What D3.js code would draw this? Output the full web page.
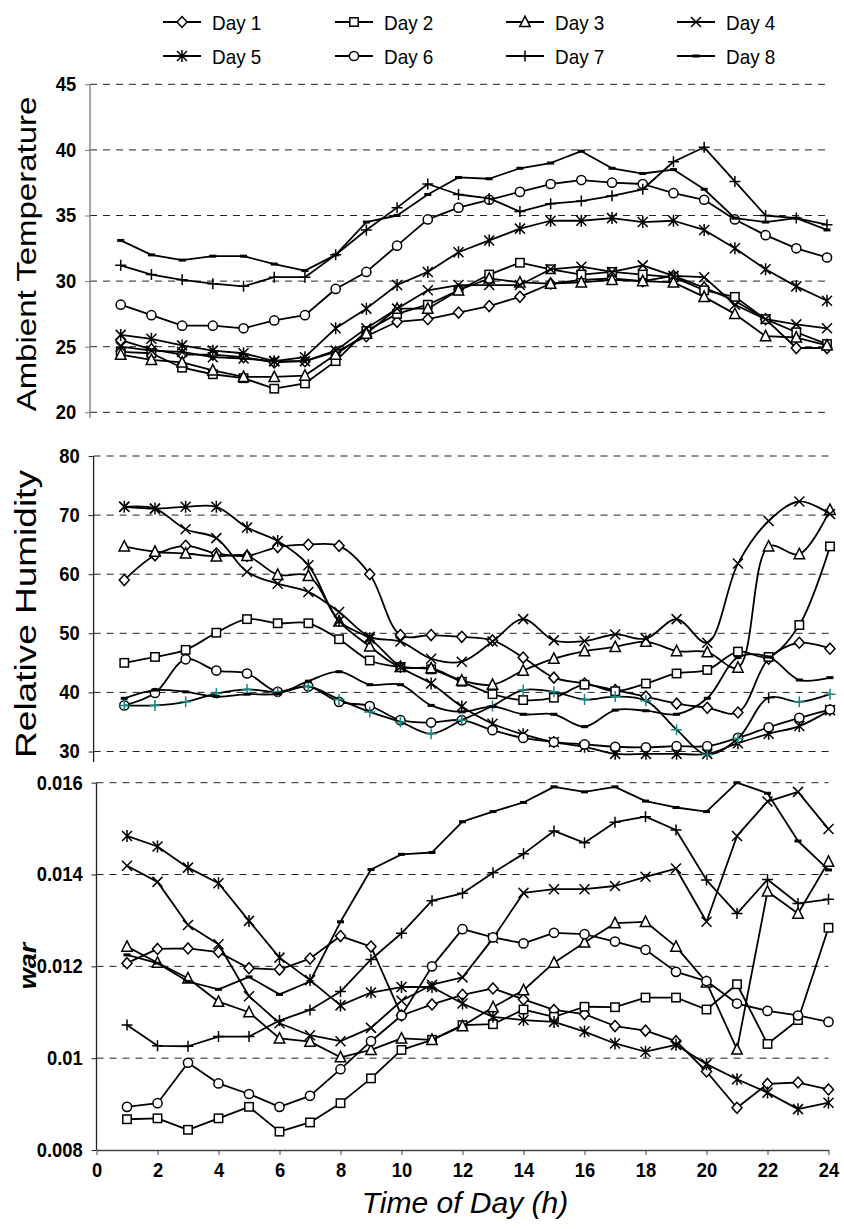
<!DOCTYPE html>
<html>
<head>
<meta charset="utf-8">
<script src="https://cdn.jsdelivr.net/npm/d3@7"></script>
<style>
  body { margin: 0; background: #fff; }
  svg { display: block; }
  text { font-family: "Liberation Sans", Arial, sans-serif; fill: #000; }
</style>
</head>
<body>
<svg id="chart" width="844" height="1229"></svg>
<script>
// ---- data -------------------------------------------------------------
const hours = [1, 2, 3, 4, 5, 6, 7, 8, 9, 10, 11, 12, 13, 14, 15, 16, 17, 18, 19, 20, 21, 22, 23, 24];
const dayNames = ["Day 1", "Day 2", "Day 3", "Day 4", "Day 5", "Day 6", "Day 7", "Day 8"];

// Ambient temperature, one row per day
const ambientTemp = [
  [25.5, 24.8, 24.4, 24.4, 24.2, 23.8, 23.9, 24.6, 25.8, 26.9, 27.1, 27.6, 28.1, 28.8, 29.8, 30.1, 30.2, 30.0, 30.4, 29.5, 28.5, 27.1, 24.9, 24.9],
  [24.6, 24.5, 23.4, 22.9, 22.6, 21.8, 22.2, 23.9, 26.2, 27.5, 28.2, 29.3, 30.5, 31.4, 30.9, 30.5, 30.7, 30.5, 30.3, 29.3, 28.8, 27.1, 26.1, 25.2],
  [24.4, 24.0, 23.8, 23.2, 22.7, 22.7, 22.8, 24.4, 26.0, 27.9, 27.9, 29.3, 30.2, 29.9, 29.8, 29.9, 30.1, 30.0, 29.9, 28.8, 27.5, 25.8, 25.7, 25.1],
  [25.0, 24.7, 24.6, 24.2, 24.1, 23.9, 23.9, 24.7, 26.4, 27.9, 29.3, 29.7, 29.7, 29.7, 30.9, 31.1, 30.7, 31.2, 30.4, 30.3, 28.2, 27.1, 26.7, 26.4],
  [25.9, 25.6, 25.1, 24.7, 24.5, 23.9, 24.2, 26.4, 27.9, 29.7, 30.7, 32.2, 33.1, 34.0, 34.6, 34.6, 34.8, 34.5, 34.6, 33.9, 32.5, 30.9, 29.6, 28.5],
  [28.2, 27.4, 26.6, 26.6, 26.4, 27.0, 27.4, 29.4, 30.7, 32.7, 34.7, 35.6, 36.2, 36.8, 37.4, 37.7, 37.5, 37.4, 36.7, 36.2, 34.7, 33.5, 32.5, 31.8],
  [31.2, 30.5, 30.1, 29.8, 29.6, 30.3, 30.3, 32.0, 33.9, 35.6, 37.4, 36.6, 36.3, 35.3, 35.9, 36.1, 36.5, 37.0, 39.1, 40.2, 37.6, 35.0, 34.8, 34.3],
  [33.1, 32.0, 31.6, 31.9, 31.9, 31.3, 30.8, 32.0, 34.5, 35.0, 36.6, 37.9, 37.8, 38.6, 39.0, 39.9, 38.6, 38.2, 38.5, 37.0, 34.8, 34.5, 34.8, 33.9]
];

// Relative humidity, one row per day
const relHumidity = [
  [59.0, 63.2, 64.8, 63.5, 63.1, 64.6, 65.0, 64.8, 60.0, 49.7, 49.7, 49.4, 48.8, 45.9, 42.5, 41.5, 40.4, 39.3, 38.1, 37.4, 36.6, 45.7, 48.4, 47.4],
  [45.0, 46.0, 47.2, 50.1, 52.4, 51.7, 51.7, 49.0, 45.4, 44.3, 43.9, 41.8, 39.7, 38.7, 39.1, 41.3, 40.2, 41.5, 43.2, 43.8, 46.9, 46.0, 51.4, 64.7],
  [64.7, 63.8, 63.5, 63.0, 63.1, 59.9, 59.7, 52.0, 47.8, 44.3, 44.1, 42.0, 41.3, 43.7, 45.7, 47.0, 47.7, 48.6, 47.0, 46.8, 44.2, 64.7, 63.4, 70.9],
  [71.4, 71.1, 67.6, 66.1, 60.4, 58.4, 57.0, 53.6, 49.4, 48.6, 45.7, 45.2, 48.6, 52.4, 48.8, 48.7, 49.8, 49.1, 52.4, 48.4, 61.8, 69.0, 72.3, 70.2],
  [71.4, 71.1, 71.4, 71.4, 67.9, 65.6, 61.5, 52.1, 49.1, 44.3, 41.5, 37.6, 34.7, 32.9, 31.6, 30.8, 29.6, 29.6, 29.6, 29.6, 31.4, 33.0, 34.3, 37.0],
  [37.8, 39.9, 45.6, 43.7, 43.2, 40.1, 41.0, 38.4, 37.7, 35.3, 34.9, 35.3, 33.6, 32.3, 31.6, 31.2, 30.8, 30.7, 30.9, 30.9, 32.3, 34.1, 35.7, 37.1],
  [37.8, 37.8, 38.4, 39.8, 40.5, 40.1, 41.0, 38.8, 36.7, 35.0, 33.0, 35.3, 37.7, 40.4, 40.1, 38.8, 39.3, 38.6, 33.7, 29.5, 32.2, 39.1, 38.4, 39.7],
  [39.0, 40.4, 40.1, 39.3, 39.7, 39.8, 41.9, 43.5, 41.3, 41.3, 37.8, 36.7, 37.6, 36.3, 36.3, 34.2, 37.0, 36.9, 36.3, 39.0, 45.9, 46.0, 42.1, 42.5]
];

// Humidity ratio (war), one row per day
const humidityRatio = [
  [0.01207, 0.01238, 0.01239, 0.01231, 0.01196, 0.01193, 0.01217, 0.01266, 0.01243, 0.01093, 0.01117, 0.01138, 0.01152, 0.01128, 0.01105, 0.01096, 0.01070, 0.01060, 0.01037, 0.00971, 0.00892, 0.00944, 0.00947, 0.00932],
  [0.00867, 0.00869, 0.00844, 0.00869, 0.00894, 0.00840, 0.00860, 0.00902, 0.00956, 0.01018, 0.01040, 0.01072, 0.01074, 0.01106, 0.01090, 0.01112, 0.01111, 0.01132, 0.01132, 0.01106, 0.01161, 0.01031, 0.01083, 0.01284],
  [0.01243, 0.01208, 0.01174, 0.01123, 0.01100, 0.01043, 0.01036, 0.01002, 0.01018, 0.01043, 0.01040, 0.01070, 0.01111, 0.01148, 0.01208, 0.01252, 0.01294, 0.01297, 0.01243, 0.01165, 0.01019, 0.01363, 0.01315, 0.01428],
  [0.01419, 0.01384, 0.01290, 0.01248, 0.01135, 0.01076, 0.01050, 0.01037, 0.01066, 0.01125, 0.01160, 0.01176, 0.01261, 0.01360, 0.01368, 0.01368, 0.01375, 0.01395, 0.01413, 0.01297, 0.01484, 0.01559, 0.01580, 0.01499],
  [0.01484, 0.01461, 0.01415, 0.01381, 0.01299, 0.01219, 0.01170, 0.01115, 0.01143, 0.01155, 0.01155, 0.01119, 0.01090, 0.01083, 0.01079, 0.01058, 0.01032, 0.01014, 0.01029, 0.00987, 0.00954, 0.00925, 0.00889, 0.00903],
  [0.00894, 0.00902, 0.00990, 0.00945, 0.00922, 0.00894, 0.00918, 0.00976, 0.01037, 0.01093, 0.01200, 0.01281, 0.01263, 0.01250, 0.01273, 0.01270, 0.01254, 0.01236, 0.01188, 0.01168, 0.01119, 0.01103, 0.01093, 0.01079],
  [0.01072, 0.01027, 0.01026, 0.01047, 0.01047, 0.01082, 0.01105, 0.01145, 0.01215, 0.01272, 0.01343, 0.01359, 0.01404, 0.01445, 0.01495, 0.01469, 0.01514, 0.01526, 0.01497, 0.01388, 0.01315, 0.01389, 0.01337, 0.01346],
  [0.01225, 0.01207, 0.01167, 0.01150, 0.01177, 0.01139, 0.01167, 0.01297, 0.01411, 0.01444, 0.01448, 0.01515, 0.01537, 0.01557, 0.01591, 0.01580, 0.01591, 0.01560, 0.01546, 0.01537, 0.01600, 0.01577, 0.01473, 0.01410]
];

// Axis ticks and labels
const tempTicks = [20, 25, 30, 35, 40, 45];
const rhTicks = [30, 40, 50, 60, 70, 80];
const warTicks = [0.008, 0.010, 0.012, 0.014, 0.016];
const warTickLabels = ["0.008", "0.01", "0.012", "0.014", "0.016"];
const hourTicks = [0, 2, 4, 6, 8, 10, 12, 14, 16, 18, 20, 22, 24];

// ---- styling ----------------------------------------------------------
const markerTypes = ["diamond", "square", "triangle", "cross", "asterisk", "circle", "plus", "dash"];
const teal = "#138a8a";
const lineWidth = 1.8;
const tickNarrow = 0.92;   // horizontal squeeze for tick lettering
const legendNarrow = 0.9;  // horizontal squeeze for legend lettering

const svg = d3.select("#chart");

function drawMarker(g, type, cx, cy, color) {
  const m = g.append("g").attr("transform", `translate(${cx},${cy})`);
  const sw = 1.5;
  switch (type) {
    case "diamond":
      m.append("path").attr("d", "M0,-5.5L5,0L0,5.5L-5,0Z")
        .attr("fill", "#fff").attr("stroke", color).attr("stroke-width", sw);
      break;
    case "square":
      m.append("rect").attr("x", -4.2).attr("y", -4.2).attr("width", 8.4).attr("height", 8.4)
        .attr("fill", "#fff").attr("stroke", color).attr("stroke-width", sw);
      break;
    case "triangle":
      m.append("path").attr("d", "M0,-5.8L5.2,4.6L-5.2,4.6Z")
        .attr("fill", "#fff").attr("stroke", color).attr("stroke-width", sw);
      break;
    case "cross":
      m.append("path").attr("d", "M-5,-5L5,5M-5,5L5,-5")
        .attr("stroke", color).attr("stroke-width", sw);
      break;
    case "asterisk":
      m.append("path").attr("d", "M-5,-5L5,5M-5,5L5,-5M0,-6L0,6")
        .attr("stroke", color).attr("stroke-width", sw);
      break;
    case "circle":
      m.append("circle").attr("r", 4.6)
        .attr("fill", "#fff").attr("stroke", color).attr("stroke-width", sw);
      break;
    case "plus":
      m.append("path").attr("d", "M-5.5,0L5.5,0M0,-5.5L0,5.5")
        .attr("stroke", color).attr("stroke-width", sw);
      break;
    case "dash":
      m.append("rect").attr("x", -3.5).attr("y", -1.5).attr("width", 7).attr("height", 3)
        .attr("fill", color);
      break;
  }
}

// ---- legend -----------------------------------------------------------
const legendCols = [163, 335, 506, 677];
const legendRows = [22, 56];
const legend = svg.append("g");
dayNames.forEach((name, i) => {
  const lx = legendCols[i % 4], ly = legendRows[Math.floor(i / 4)];
  const item = legend.append("g");
  item.append("line").attr("x1", lx).attr("x2", lx + 38).attr("y1", ly).attr("y2", ly)
    .attr("stroke", "#000").attr("stroke-width", lineWidth);
  drawMarker(item, markerTypes[i], lx + 19, ly, "#000");
  item.append("text")
    .attr("transform", `translate(${lx + 49},${ly + 7.5}) scale(${legendNarrow},1)`)
    .attr("font-size", 21).text(name);
});

// ---- panels -----------------------------------------------------------
const panels = [
  { title: "Ambient Temperature", titleStyle: "normal", titleSize: 33, titleSquash: 0.85, data: ambientTemp,
    domain: [20, 45], ticks: tempTicks, labels: tempTicks.map(String),
    x0: 90, x1: 827, yTop: 84.3, yBot: 412.3, axisEnd: 418, axisColor: "#7a7a7a",
    curve: d3.curveLinear, titleY: 254 },
  { title: "Relative Humidity", titleStyle: "normal", titleSize: 37, titleSquash: 0.78, data: relHumidity,
    domain: [30, 80], ticks: rhTicks, labels: rhTicks.map(String),
    x0: 93.6, x1: 830, yTop: 456, yBot: 751.5, axisEnd: 762, axisColor: "#222",
    curve: d3.curveCatmullRom.alpha(0.5), titleY: 614 },
  { title: "war", titleStyle: "bolditalic", titleSize: 27, titleSquash: 0.9, data: humidityRatio,
    domain: [0.008, 0.016], ticks: warTicks, labels: warTickLabels,
    x0: 96.5, x1: 828.5, yTop: 782.7, yBot: 1150, axisEnd: 1150, axisColor: "#222",
    curve: d3.curveLinear, titleY: 966, xAxis: true }
];

panels.forEach((p, pi) => {
  const g = svg.append("g");
  const x = d3.scaleLinear().domain([0, 24]).range([p.x0, p.x1]);
  const y = d3.scaleLinear().domain(p.domain).range([p.yBot, p.yTop]);

  // dashed gridlines
  g.append("g").selectAll("line")
    .data(p.xAxis ? p.ticks.slice(1) : p.ticks)
    .join("line")
    .attr("x1", p.x0).attr("x2", p.x1)
    .attr("y1", d => y(d)).attr("y2", d => y(d))
    .attr("stroke", "#222").attr("stroke-width", 1)
    .attr("stroke-dasharray", "7,6");

  // y axis: ticks and labels from the scale
  const yAxis = d3.axisLeft(y)
    .tickValues(p.ticks)
    .tickFormat((d, i) => p.labels[i])
    .tickSize(5).tickSizeOuter(0).tickPadding(10);
  const ya = g.append("g").attr("transform", `translate(${p.x0},0)`).call(yAxis);
  ya.select(".domain").remove();
  ya.selectAll(".tick line").attr("stroke", p.axisColor);
  ya.selectAll(".tick text")
    .attr("font-size", 20).attr("font-weight", "bold")
    .attr("font-family", '"Liberation Sans", Arial, sans-serif').attr("fill", "#000")
    .attr("transform", `scale(${tickNarrow},1)`);
  g.append("line").attr("x1", p.x0).attr("x2", p.x0)
    .attr("y1", p.yTop).attr("y2", p.axisEnd)
    .attr("stroke", p.axisColor).attr("stroke-width", 1.3);

  // x axis on the bottom panel
  if (p.xAxis) {
    const xAxis = d3.axisBottom(x).tickValues(hourTicks).tickSize(5).tickSizeOuter(0).tickPadding(8);
    const xa = g.append("g").attr("transform", `translate(0,${p.yBot})`).call(xAxis);
    xa.select(".domain").attr("stroke", "#444").attr("stroke-width", 1.3);
    xa.selectAll(".tick line").attr("stroke", "#444");
    xa.selectAll(".tick text")
      .attr("font-size", 20).attr("font-weight", "bold")
      .attr("font-family", '"Liberation Sans", Arial, sans-serif').attr("fill", "#000")
      .attr("transform", `scale(${tickNarrow},1)`);
  }

  // rotated axis title (glyphs slightly narrowed across the reading direction)
  const t = g.append("text")
    .attr("transform", `translate(36,${p.titleY}) rotate(-90) scale(1,${p.titleSquash})`)
    .attr("text-anchor", "middle")
    .attr("font-size", p.titleSize)
    .text(p.title);
  if (p.titleStyle === "bolditalic") t.attr("font-weight", "bold").attr("font-style", "italic");

  // series: line then markers, Day 1 first so Day 8 sits on top
  const line = d3.line().x((d, i) => x(hours[i])).y(d => y(d)).curve(p.curve);
  p.data.forEach((series, si) => {
    const sg = g.append("g");
    sg.append("path").datum(series).attr("d", line)
      .attr("fill", "none").attr("stroke", "#000").attr("stroke-width", lineWidth)
      .attr("stroke-linejoin", "round");
    series.forEach((v, i) => {
      let color = "#000";
      if (pi === 1 && si === 6 && i !== 21) color = teal;
      drawMarker(sg, markerTypes[si], x(hours[i]), y(v), color);
    });
  });
});

// x axis title
svg.append("text")
  .attr("x", 465).attr("y", 1213)
  .attr("text-anchor", "middle")
  .attr("font-size", 30).attr("font-style", "italic")
  .text("Time of Day (h)");
</script>
</body>
</html>
